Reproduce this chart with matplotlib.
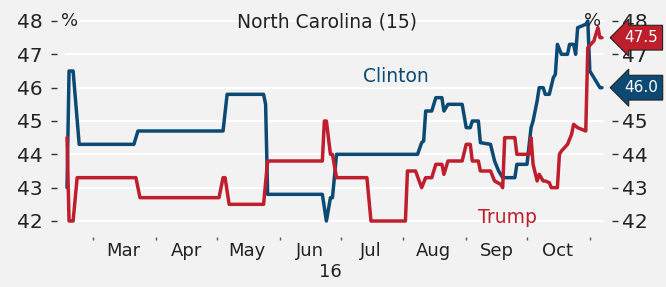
import matplotlib
matplotlib.use("Agg")
import matplotlib.pyplot as plt
import pandas as pd

# polling average, North Carolina 2016
clinton_dates = ["2016-02-17", "2016-02-18", "2016-02-20", "2016-02-23", "2016-03-21", "2016-03-23",
                 "2016-05-04", "2016-05-06", "2016-05-24", "2016-05-25", "2016-05-26", "2016-06-22",
                 "2016-06-24", "2016-06-26", "2016-06-27", "2016-06-29", "2016-08-08", "2016-08-10",
                 "2016-08-11", "2016-08-12", "2016-08-15", "2016-08-17", "2016-08-20", "2016-08-21",
                 "2016-08-23", "2016-08-30", "2016-09-01", "2016-09-03", "2016-09-04", "2016-09-07",
                 "2016-09-08", "2016-09-13", "2016-09-15", "2016-09-17", "2016-09-19", "2016-09-25",
                 "2016-09-26", "2016-10-01", "2016-10-03", "2016-10-04", "2016-10-06", "2016-10-07",
                 "2016-10-09", "2016-10-10", "2016-10-12", "2016-10-14", "2016-10-15", "2016-10-16",
                 "2016-10-18", "2016-10-21", "2016-10-22", "2016-10-24", "2016-10-25", "2016-10-26",
                 "2016-10-30", "2016-10-31", "2016-11-01", "2016-11-03", "2016-11-06", "2016-11-07"]
clinton_vals = [43.0, 46.5, 46.5, 44.3, 44.3, 44.7,
                44.7, 45.8, 45.8, 45.5, 42.8, 42.8,
                42.0, 42.7, 42.7, 44.0, 44.0, 44.35,
                44.4, 45.3, 45.3, 45.7, 45.7, 45.3,
                45.5, 45.5, 44.8, 44.8, 45.0, 45.0,
                44.35, 44.3, 43.8, 43.5, 43.3, 43.3,
                43.7, 43.7, 44.8, 45.0, 45.6, 46.0,
                46.0, 45.8, 45.8, 46.3, 46.4, 47.3,
                47.0, 47.0, 47.3, 47.3, 47.0, 47.8,
                47.9, 48.0, 46.5, 46.3, 46.0, 46.0]

trump_dates = ["2016-02-17", "2016-02-18", "2016-02-20", "2016-02-22", "2016-03-22", "2016-03-24",
               "2016-05-02", "2016-05-04", "2016-05-05", "2016-05-07", "2016-05-24", "2016-05-26",
               "2016-06-22", "2016-06-23", "2016-06-24", "2016-06-26", "2016-06-27", "2016-06-29",
               "2016-07-14", "2016-07-16", "2016-08-02", "2016-08-03", "2016-08-07", "2016-08-10",
               "2016-08-12", "2016-08-15", "2016-08-17", "2016-08-20", "2016-08-21", "2016-08-23",
               "2016-08-30", "2016-09-01", "2016-09-03", "2016-09-04", "2016-09-07", "2016-09-08",
               "2016-09-13", "2016-09-15", "2016-09-18", "2016-09-19", "2016-09-20", "2016-09-25",
               "2016-09-26", "2016-10-02", "2016-10-03", "2016-10-04", "2016-10-06", "2016-10-07",
               "2016-10-09", "2016-10-10", "2016-10-12", "2016-10-13", "2016-10-16", "2016-10-17",
               "2016-10-18", "2016-10-21", "2016-10-23", "2016-10-24", "2016-10-26", "2016-10-30",
               "2016-10-31", "2016-11-03", "2016-11-05", "2016-11-06", "2016-11-07"]
trump_vals = [44.5, 42.0, 42.0, 43.3, 43.3, 42.7,
              42.7, 43.3, 43.3, 42.5, 42.5, 43.8,
              43.8, 45.0, 45.0, 44.0, 44.0, 43.3,
              43.3, 42.0, 42.0, 43.5, 43.5, 43.0,
              43.3, 43.3, 43.7, 43.7, 43.4, 43.8,
              43.8, 44.3, 44.3, 43.8, 43.8, 43.5,
              43.5, 43.2, 43.1, 43.0, 44.5, 44.5,
              44.0, 44.0, 44.5, 43.7, 43.2, 43.4,
              43.2, 43.2, 43.15, 43.0, 43.0, 44.0,
              44.1, 44.3, 44.6, 44.9, 44.8, 44.7,
              47.2, 47.4, 47.8, 47.5, 47.5]

yticks = [42, 43, 44, 45, 46, 47, 48]
month_starts = ["2016-03-01", "2016-04-01", "2016-05-01", "2016-06-01", "2016-07-01",
                "2016-08-01", "2016-09-01", "2016-10-01", "2016-11-01"]
month_mids = ["2016-03-16", "2016-04-16", "2016-05-16", "2016-06-16", "2016-07-16",
              "2016-08-16", "2016-09-16", "2016-10-16"]
month_labels = ["Mar", "Apr", "May", "Jun", "Jul", "Aug", "Sep", "Oct"]
clinton_last = "46.0"
trump_last = "47.5"

blue = "#0c4a74"
red = "#bf1e2d"
bg = "#f2f2f2"

plt.rcParams['font.family'] = ['DejaVu Sans']

fig = plt.figure(figsize=(6.66, 2.87), dpi=100, facecolor=bg)
ax = fig.add_axes([65 / 666, 1 - 230 / 287, 539 / 666, 216 / 287], facecolor=bg)

cd = pd.to_datetime(clinton_dates)
td = pd.to_datetime(trump_dates)
ax.plot(cd, clinton_vals, color=blue, lw=2.5, solid_joinstyle="round", solid_capstyle="round", zorder=3)
ax.plot(td, trump_vals, color=red, lw=2.5, solid_joinstyle="round", solid_capstyle="round", zorder=3)

ax.set_xlim(pd.Timestamp("2016-02-16"), pd.Timestamp("2016-11-08"))
ax.set_ylim(41.73, 48.21)
ax.set_yticks(yticks)
ax.yaxis.grid(True, color="white", lw=1.5)
ax.set_axisbelow(True)
for s in ax.spines.values():
    s.set_visible(False)
ax.spines['left'].set_position(('outward', 6))
ax.spines['bottom'].set_position(('outward', 5))
ax.tick_params(axis='y', length=4, width=1, color="#333333", pad=6, labelsize=14.5, labelcolor="#222222")

ax.set_xticks(pd.to_datetime(month_mids))
ax.set_xticklabels(month_labels)
ax.set_xticks(pd.to_datetime(month_starts), minor=True)
ax.tick_params(axis='x', which='major', length=0, pad=4, labelsize=13, labelcolor="#222222")
ax.tick_params(axis='x', which='minor', length=2, width=1, color="#555555")

ax2 = ax.twinx()
ax2.set_ylim(ax.get_ylim())
ax2.set_yticks(yticks)
for s in ax2.spines.values():
    s.set_visible(False)
ax2.spines['right'].set_position(('outward', 6))
ax2.tick_params(axis='y', length=4, width=1, color="#333333", pad=3, labelsize=14.5, labelcolor="#222222")

ax.text(-0.007, 48.0, "%", fontsize=13, va="center", ha="left", color="#222222",
        transform=ax.get_yaxis_transform())
ax.text(0.995, 48.0, "%", fontsize=13, va="center", ha="right", color="#222222",
        transform=ax.get_yaxis_transform())
fig.text(327 / 666, 1 - 22 / 287, "North Carolina (15)", fontsize=13.5, ha="center", va="center", color="#222222")
ax.text(pd.Timestamp("2016-07-12"), 46.35, "Clinton", fontsize=13.5, color=blue, ha="left", va="center")
ax.text(pd.Timestamp("2016-09-07"), 42.1, "Trump", fontsize=13.5, color=red, ha="left", va="center")
fig.text(330 / 666, 1 - 272 / 287, "16", fontsize=13, ha="center", va="center", color="#222222")

# last-value tags drawn on the right axis so they sit over its tick labels
for val, txt, col in [(47.5, trump_last, red), (46.0, clinton_last, blue)]:
    ax2.text(1.037, val, txt, fontsize=11, color="white", ha="left", va="center",
             transform=ax2.get_yaxis_transform(), zorder=10, clip_on=False,
             bbox=dict(boxstyle="larrow,pad=0.32", fc=col, ec="#222222", lw=0.8))

fig.savefig("out.png", dpi=100, facecolor=bg)
